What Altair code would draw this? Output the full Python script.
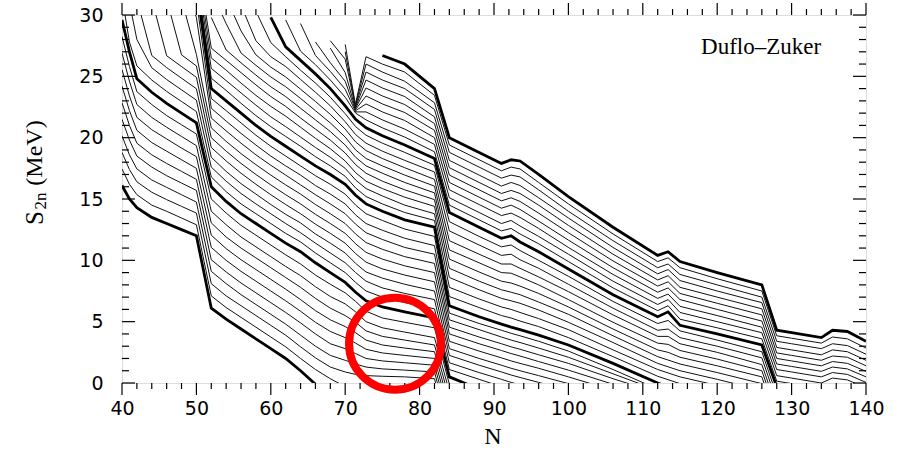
import altair as alt
import pandas as pd

_ = None

# knot positions (neutron number N) for the four regions of every isotopic chain
KN_A = [40, 41, 42, 44, 46, 48, 50]
KN_B = [52, 54, 56, 58, 60, 62, 64, 66, 68, 70, 71.4, 72.8, 75, 78, 82]
KN_C = [84, 88, 91, 92.3, 93.5, 96, 100, 106, 112, 113.4, 115, 120, 126]
KN_D = [128, 130, 134, 135.5, 137.5, 140]

# S2n (MeV) read for each proton number Z, region by region
Z30 = ([16.1, 15.0, 14.3, 13.5, 13.0, 12.5, 12.0],
       [6.1, 5.2, 4.4, 3.6, 2.8, 2.0, 1.0, -0.1], [], [])
Z31 = ([17.45, 16.2, 15.35, 14.5, 14.0, 13.45, 12.9],
       [7.1, 6.15, 5.35, 4.55, 3.75, 2.95, 2.0, 1.1, 0.35, -0.3], [], [])
Z32 = ([18.8, 17.4, 16.4, 15.55, 14.95, 14.4, 13.85],
       [8.1, 7.1, 6.3, 5.5, 4.7, 3.9, 2.95, 2.05, 1.3, 0.9, 0.7, 0.6, 0.55, 0.5, 0.35], [-4.3], [])
Z33 = ([20.15, 18.6, 17.45, 16.55, 15.95, 15.35, 14.75],
       [9.1, 8.1, 7.2, 6.4, 5.6, 4.8, 3.9, 3.0, 2.25, 1.85, 1.55, 1.3, 1.15, 1.05, 0.9], [-3.7], [])
Z34 = ([21.5, 19.8, 18.5, 17.6, 16.9, 16.3, 15.7],
       [10.05, 9.05, 8.15, 7.35, 6.55, 5.75, 4.9, 4.0, 3.2, 2.8, 2.4, 2.0, 1.8, 1.65, 1.45], [-3.1], [])
Z35 = ([22.85, 21.0, 19.55, 18.6, 17.9, 17.25, 16.6],
       [11.05, 10.0, 9.1, 8.3, 7.5, 6.7, 5.85, 4.95, 4.2, 3.7, 3.25, 2.75, 2.45, 2.25, 2.0], [-2.5], [])
Z36 = ([24.2, 22.2, 20.6, 19.6, 18.9, 18.2, 17.5],
       [12.05, 10.95, 10.05, 9.25, 8.45, 7.65, 6.8, 5.9, 5.15, 4.6, 4.1, 3.5, 3.1, 2.85, 2.55], [-1.9], [])
Z37 = ([25.55, 23.4, 21.65, 20.65, 19.9, 19.15, 18.45],
       [13.05, 11.9, 11.0, 10.2, 9.4, 8.6, 7.8, 6.9, 6.1, 5.5, 4.95, 4.25, 3.8, 3.5, 3.1], [-1.3], [])
Z38 = ([26.9, 24.6, 22.7, 21.65, 20.85, 20.1, 19.35],
       [14.0, 12.9, 11.9, 11.1, 10.3, 9.5, 8.75, 7.85, 7.05, 6.45, 5.8, 5.0, 4.5, 4.15, 3.7], [-0.7], [])
Z39 = ([28.25, 25.8, 23.75, 22.7, 21.8, 21.05, 20.3],
       [15.0, 13.85, 12.85, 12.05, 11.25, 10.45, 9.7, 8.8, 8.05, 7.35, 6.65, 5.85, 5.3, 4.95, 4.5], [-0.1], [])
Z40 = ([29.6, 27.0, 24.8, 23.7, 22.8, 22.0, 21.2],
       [16.0, 14.8, 13.8, 13.0, 12.2, 11.4, 10.7, 9.8, 9.0, 8.2, 7.4, 6.7, 6.2, 5.8, 5.3], [0.5, -0.5], [])
Z41 = ([31.5, 27.8, 25.85, 24.7, 23.77, 22.95, 22.13],
       [16.8, 15.6, 14.6, 13.8, 13.0, 12.2, 11.5, 10.6, 9.8, 9.0, 8.2, 7.5, 7.0, 6.55, 6.05],
       [1.1, 0.3, -0.3], [])
Z42 = ([_, 31.0, 28.0, 25.7, 24.74, 23.9, 23.06],
       [17.6, 16.45, 15.45, 14.6, 13.8, 13.0, 12.25, 11.4, 10.6, 9.8, 9.0, 8.3, 7.75, 7.3, 6.8],
       [1.65, 0.85, 0.3, 0.05, -0.15], [])
Z43 = ([_, _, 31.3, 26.7, 25.71, 24.85, 23.99],
       [18.4, 17.25, 16.25, 15.4, 14.55, 13.75, 13.05, 12.15, 11.4, 10.6, 9.75, 9.05, 8.55, 8.05, 7.5],
       [2.25, 1.45, 0.9, 0.65, 0.45, 0.05, -0.6], [])
Z44 = ([_, _, _, 31.3, 26.68, 25.8, 24.92],
       [19.2, 18.1, 17.1, 16.2, 15.35, 14.55, 13.8, 12.95, 12.2, 11.4, 10.55, 9.85, 9.3, 8.8, 8.25],
       [2.8, 2.0, 1.45, 1.2, 1.0, 0.6, -0.05], [])
Z45 = ([_, _, _, _, 31.3, 26.75, 25.85],
       [20.0, 18.9, 17.9, 17.0, 16.15, 15.35, 14.6, 13.75, 13.0, 12.2, 11.35, 10.65, 10.1, 9.55, 9.0],
       [3.4, 2.6, 2.05, 1.8, 1.6, 1.2, 0.5, -0.6], [])
Z46 = ([_, _, _, _, _, 31.3, 26.78],
       [20.8, 19.7, 18.7, 17.8, 16.95, 16.15, 15.4, 14.55, 13.8, 13.0, 12.15, 11.45, 10.9, 10.3, 9.75],
       [4.0, 3.2, 2.65, 2.4, 2.2, 1.75, 1.05, -0.1], [])
Z47 = ([_, _, _, _, _, 33.0, 29.8],
       [21.6, 20.55, 19.55, 18.6, 17.75, 16.95, 16.15, 15.35, 14.6, 13.8, 12.95, 12.25, 11.7, 11.05, 10.5],
       [4.55, 3.75, 3.2, 2.95, 2.75, 2.3, 1.6, 0.35, -0.8], [])
Z48 = ([_, _, _, _, _, _, 31.2],
       [22.4, 21.35, 20.35, 19.4, 18.5, 17.7, 16.95, 16.1, 15.4, 14.6, 13.7, 13.0, 12.45, 11.8, 11.2],
       [5.15, 4.35, 3.75, 3.5, 3.3, 2.85, 2.1, 0.75, -0.6], [])
Z49 = ([_, _, _, _, _, _, 32.0],
       [23.2, 22.2, 21.2, 20.2, 19.3, 18.5, 17.7, 16.9, 16.2, 15.4, 14.5, 13.8, 13.25, 12.55, 11.95],
       [5.7, 4.85, 4.3, 4.05, 3.85, 3.4, 2.6, 1.1, -0.5], [])
Z50 = ([_, _, _, _, _, _, 32.6],
       [24.0, 23.0, 22.0, 21.0, 20.1, 19.3, 18.5, 17.7, 17.0, 16.2, 15.3, 14.6, 14.0, 13.3, 12.7],
       [6.3, 5.4, 4.8, 4.55, 4.35, 3.9, 3.1, 1.6, 0.0, -0.35], [])
Z51 = ([_, _, _, _, _, _, 33.2],
       [24.85, 23.85, 22.8, 21.8, 20.9, 20.1, 19.3, 18.45, 17.7, 16.85, 15.9, 15.2, 14.6, 13.9, 13.25],
       [7.05, 6.15, 5.5, 5.3, 5.05, 4.6, 3.7, 2.15, 0.55, 0.27, -0.05], [])
Z52 = ([_, _, _, _, _, _, 33.8],
       [25.65, 24.65, 23.65, 22.65, 21.7, 20.9, 20.05, 19.2, 18.4, 17.5, 16.55, 15.85, 15.25, 14.5, 13.8],
       [7.8, 6.85, 6.2, 6.0, 5.75, 5.25, 4.35, 2.7, 1.1, 0.82, 0.5, -0.2], [])
Z53 = ([_, _, _, _, _, _, 34.4],
       [26.5, 25.5, 24.45, 23.45, 22.55, 21.75, 20.85, 19.95, 19.1, 18.1, 17.15, 16.45, 15.85, 15.15, 14.4],
       [8.6, 7.6, 6.9, 6.7, 6.5, 5.95, 4.95, 3.3, 1.6, 1.32, 1.0, 0.3, -0.6], [])
Z54 = ([_, _, _, _, _, _, 35.0],
       [27.3, 26.3, 25.3, 24.3, 23.35, 22.55, 21.6, 20.7, 19.8, 18.75, 17.8, 17.1, 16.45, 15.75, 14.95],
       [9.35, 8.3, 7.6, 7.4, 7.2, 6.6, 5.6, 3.85, 2.15, 1.87, 1.55, 0.85, -0.05], [])
Z55 = ([],
       [29.8, 27.15, 26.1, 25.1, 24.15, 23.35, 22.4, 21.45, 20.5, 19.4, 18.4, 17.7, 17.1, 16.35, 15.5],
       [10.1, 9.05, 8.3, 8.15, 7.9, 7.3, 6.2, 4.4, 2.7, 2.5, 2.1, 1.4, 0.5], [-3.0])
Z56 = ([],
       [31.9, 29.3, 26.9, 25.9, 24.95, 24.15, 23.2, 22.2, 21.2, 20.05, 19.0, 18.3, 17.7, 16.95, 16.05],
       [10.85, 9.8, 9.0, 8.95, 8.65, 8.0, 6.8, 4.95, 3.25, 3.15, 2.65, 1.95, 1.0], [-2.5])
Z57 = ([],
       [_, 31.4, 28.7, 26.75, 25.75, 24.95, 23.95, 22.95, 21.9, 20.7, 19.65, 18.95, 18.3, 17.55, 16.6],
       [11.6, 10.5, 9.7, 9.7, 9.35, 8.65, 7.45, 5.55, 3.8, 3.8, 3.2, 2.5, 1.5], [-2.0])
Z58 = ([],
       [_, _, 30.8, 27.9, 26.6, 25.8, 24.75, 23.7, 22.6, 21.3, 20.25, 19.55, 18.9, 18.15, 17.2],
       [12.4, 11.25, 10.4, 10.5, 10.05, 9.35, 8.05, 6.1, 4.3, 4.4, 3.7, 3.0, 2.05], [-1.5])
Z59 = ([],
       [_, _, _, 30.3, 27.75, 26.6, 25.5, 24.45, 23.3, 21.95, 20.9, 20.2, 19.55, 18.8, 17.75],
       [13.15, 11.95, 11.1, 11.25, 10.8, 10.0, 8.7, 6.65, 4.85, 5.1, 4.25, 3.5, 2.55], [-1.0])
Z60 = ([],
       [_, _, _, _, 29.8, 27.4, 26.3, 25.2, 24.0, 22.6, 21.5, 20.8, 20.15, 19.4, 18.3],
       [13.9, 12.7, 11.8, 12.0, 11.5, 10.7, 9.3, 7.2, 5.4, 5.8, 4.7, 4.0, 3.1], [-0.3, -0.5])
Z61 = ([],
       [_, _, _, _, _, 29.6, 27.05, 25.95, 24.7, 23.3, 22.0, 21.45, 20.8, 20.05, 18.85],
       [14.5, 13.3, 12.4, 12.6, 12.15, 11.35, 9.9, 7.75, 5.9, 6.3, 5.2, 4.5, 3.6], [0.15, -0.05, -0.45])
Z62 = ([],
       [_, _, _, _, _, _, 29.3, 26.7, 25.4, 23.95, 22.1, 22.1, 21.45, 20.7, 19.45],
       [15.1, 13.9, 13.0, 13.25, 12.8, 11.95, 10.5, 8.3, 6.4, 6.8, 5.75, 5.0, 4.1],
       [0.6, 0.4, 0.0, 0.4, 0.25, -0.4])
Z63 = ([],
       [_, _, _, _, _, _, _, 27.8, 26.1, 24.6, 22.2, 22.75, 22.1, 21.4, 20.0],
       [15.75, 14.55, 13.65, 13.85, 13.5, 12.6, 11.05, 8.85, 6.9, 7.25, 6.25, 5.5, 4.55],
       [1.1, 0.9, 0.5, 0.85, 0.7, 0.05])
Z64 = ([],
       [_, _, _, _, _, _, _, _, 27.3, 25.3, 22.3, 23.4, 22.75, 22.05, 20.6],
       [16.35, 15.15, 14.25, 14.5, 14.15, 13.2, 11.65, 9.4, 7.4, 7.75, 6.8, 6.0, 5.05],
       [1.55, 1.35, 0.95, 1.3, 1.15, 0.5])
Z65 = ([],
       [_, _, _, _, _, _, _, _, 27.9, 26.4, 22.4, 24.05, 23.4, 22.7, 21.15],
       [16.95, 15.75, 14.85, 15.1, 14.8, 13.85, 12.25, 9.95, 7.9, 8.25, 7.3, 6.5, 5.55],
       [2.0, 1.8, 1.4, 1.75, 1.6, 0.95])
Z66 = ([],
       [_, _, _, _, _, _, _, _, _, 27.0, 22.5, 24.7, 24.05, 23.35, 21.7],
       [17.55, 16.35, 15.45, 15.7, 15.45, 14.5, 12.85, 10.5, 8.4, 8.75, 7.8, 7.0, 6.05],
       [2.45, 2.25, 1.85, 2.2, 2.1, 1.4])
Z67 = ([],
       [_, _, _, _, _, _, _, _, _, 27.6, 22.6, 25.35, 24.7, 24.0, 22.3],
       [18.15, 16.95, 16.05, 16.35, 16.1, 15.1, 13.45, 11.05, 8.9, 9.25, 8.35, 7.5, 6.55],
       [2.9, 2.7, 2.3, 2.7, 2.55, 1.85])
Z68 = ([],
       [_, _, _, _, _, _, _, _, _, _, 22.7, 26.0, 25.35, 24.6, 22.85],
       [18.8, 17.6, 16.7, 16.95, 16.8, 15.75, 14.0, 11.6, 9.4, 9.7, 8.85, 8.0, 7.0],
       [3.4, 3.2, 2.8, 3.2, 3.05, 2.35])
Z69 = ([],
       [_, _, _, _, _, _, _, _, _, _, 22.8, 26.6, 26.0, 25.35, 23.45],
       [19.4, 18.2, 17.3, 17.6, 17.45, 16.35, 14.6, 12.15, 9.9, 10.2, 9.4, 8.5, 7.5],
       [3.85, 3.65, 3.25, 3.75, 3.6, 2.85])
Z70 = ([],
       [_, _, _, _, _, _, _, _, _, _, _, _, 26.7, 26.0, 24.0],
       [20.0, 18.8, 17.9, 18.2, 18.1, 17.0, 15.2, 12.7, 10.4, 10.7, 9.9, 9.0, 8.0],
       [4.3, 4.1, 3.7, 4.3, 4.2, 3.4])

CHAINS = [(30, Z30), (31, Z31), (32, Z32), (33, Z33), (34, Z34), (35, Z35), (36, Z36),
          (37, Z37), (38, Z38), (39, Z39), (40, Z40), (41, Z41), (42, Z42), (43, Z43),
          (44, Z44), (45, Z45), (46, Z46), (47, Z47), (48, Z48), (49, Z49), (50, Z50),
          (51, Z51), (52, Z52), (53, Z53), (54, Z54), (55, Z55), (56, Z56), (57, Z57),
          (58, Z58), (59, Z59), (60, Z60), (61, Z61), (62, Z62), (63, Z63), (64, Z64),
          (65, Z65), (66, Z66), (67, Z67), (68, Z68), (69, Z69), (70, Z70)]
THICK_Z = [30, 40, 50, 60, 70]

X_MAJOR = [40, 50, 60, 70, 80, 90, 100, 110, 120, 130, 140]
X_MINOR = [n for n in range(42, 140, 2) if n % 10 != 0]
Y_MAJOR = [0, 5, 10, 15, 20, 25, 30]
Y_MINOR = [s for s in range(1, 30) if s % 5 != 0]

ANNOT_N = [125.9]
ANNOT_S = [27.4]
ANNOT_TXT = ["Duflo\u2013Zuker"]
CIRCLE_N = [76.7]
CIRCLE_S = [3.2]

REGIONS = [KN_A, KN_B, KN_C, KN_D]
rows = []
for z, segs in CHAINS:
    k = 0
    for knots, vals in zip(REGIONS, segs):
        assert len(vals) <= len(knots), (z, knots)
        for n, s in zip(knots, vals):
            if s is None:
                continue
            rows.append({"Z": z, "N": n, "S": s, "k": k,
                         "w": "thick" if z in THICK_Z else "thin"})
            k += 1
df = pd.DataFrame(rows)

W, H = 744, 368
XS = alt.Scale(domain=[40, 140], nice=False, zero=False)
YS = alt.Scale(domain=[0, 30], nice=False, zero=False)
SANS = "DejaVu Sans"
SERIF = "Liberation Serif"

XAX = alt.Axis(values=X_MAJOR, title=None, grid=False, ticks=False, tickSize=0, domain=False,
               labelFont=SANS, labelFontSize=19, labelColor="black", labelPadding=16,
               labelFlush=False, labelOverlap=False)
YAX = alt.Axis(values=Y_MAJOR, title=None, grid=False, ticks=False, tickSize=0, domain=False,
               labelFont=SANS, labelFontSize=19, labelColor="black", labelPadding=19,
               labelFlush=False, labelOverlap=False)


def xenc(field):
    return alt.X(field, scale=XS, axis=XAX)


def yenc(field):
    return alt.Y(field, scale=YS, axis=YAX)


thin = alt.Chart(df).transform_filter(alt.datum.w == "thin").mark_line(
    clip=True, color="#111111", strokeWidth=1.0
).encode(x=xenc("N:Q"), y=yenc("S:Q"), detail="Z:N", order="k:Q")

thick = alt.Chart(df).transform_filter(alt.datum.w == "thick").mark_line(
    clip=True, color="black", strokeWidth=2.8
).encode(x=xenc("N:Q"), y=yenc("S:Q"), detail="Z:N", order="k:Q")


def xticks(vals, y0, y1):
    return alt.Chart(pd.DataFrame({"t": vals})).mark_rule(color="black", strokeWidth=1.2).encode(
        x=xenc("t:Q"), y=alt.value(y0), y2=alt.value(y1))


def yticks(vals, x0, x1):
    return alt.Chart(pd.DataFrame({"t": vals})).mark_rule(color="black", strokeWidth=1.2).encode(
        y=yenc("t:Q"), x=alt.value(x0), x2=alt.value(x1))


ticks = [
    xticks(X_MAJOR, H, H + 12), xticks(X_MINOR, H, H + 6),
    xticks(X_MAJOR, 0, -12), xticks(X_MINOR, 0, -6),
    yticks(Y_MAJOR, 0, 13), yticks(Y_MINOR, 0, 7),
    yticks(Y_MAJOR, W, W - 13), yticks(Y_MINOR, W, W - 7),
]

annot = alt.Chart(pd.DataFrame({"N": ANNOT_N, "S": ANNOT_S, "txt": ANNOT_TXT})).mark_text(
    font=SERIF, fontSize=23, color="black", align="center", baseline="middle"
).encode(x=xenc("N:Q"), y=yenc("S:Q"), text="txt:N")

circle = alt.Chart(pd.DataFrame({"N": CIRCLE_N, "S": CIRCLE_S})).mark_point(
    shape="circle", size=8464, filled=False, color="#ff0000", strokeWidth=8, opacity=1
).encode(x=xenc("N:Q"), y=yenc("S:Q"))


def label(txt, x, y, size, angle=0):
    return alt.Chart(pd.DataFrame({"t": [txt]})).mark_text(
        font=SERIF, fontSize=size, color="black", align="center", baseline="middle", angle=angle
    ).encode(x=alt.value(x), y=alt.value(y), text="t:N")


titles = [
    label("S", -87, 203, 25, 270),
    label("2n", -81, 186, 17, 270),
    label("(MeV)", -87, 138, 24, 270),
    label("N", 371, 422, 24),
]

chart = alt.layer(thin, thick, *ticks, annot, *titles, circle).properties(
    width=W, height=H,
    autosize=alt.AutoSizeParams(type="none"),
    padding={"left": 122, "top": 15, "right": 39, "bottom": 69},
).configure_view(stroke="black", strokeWidth=1.6).configure(background="white")

chart.save("out.html", embed_options={"renderer": "svg", "actions": False})
